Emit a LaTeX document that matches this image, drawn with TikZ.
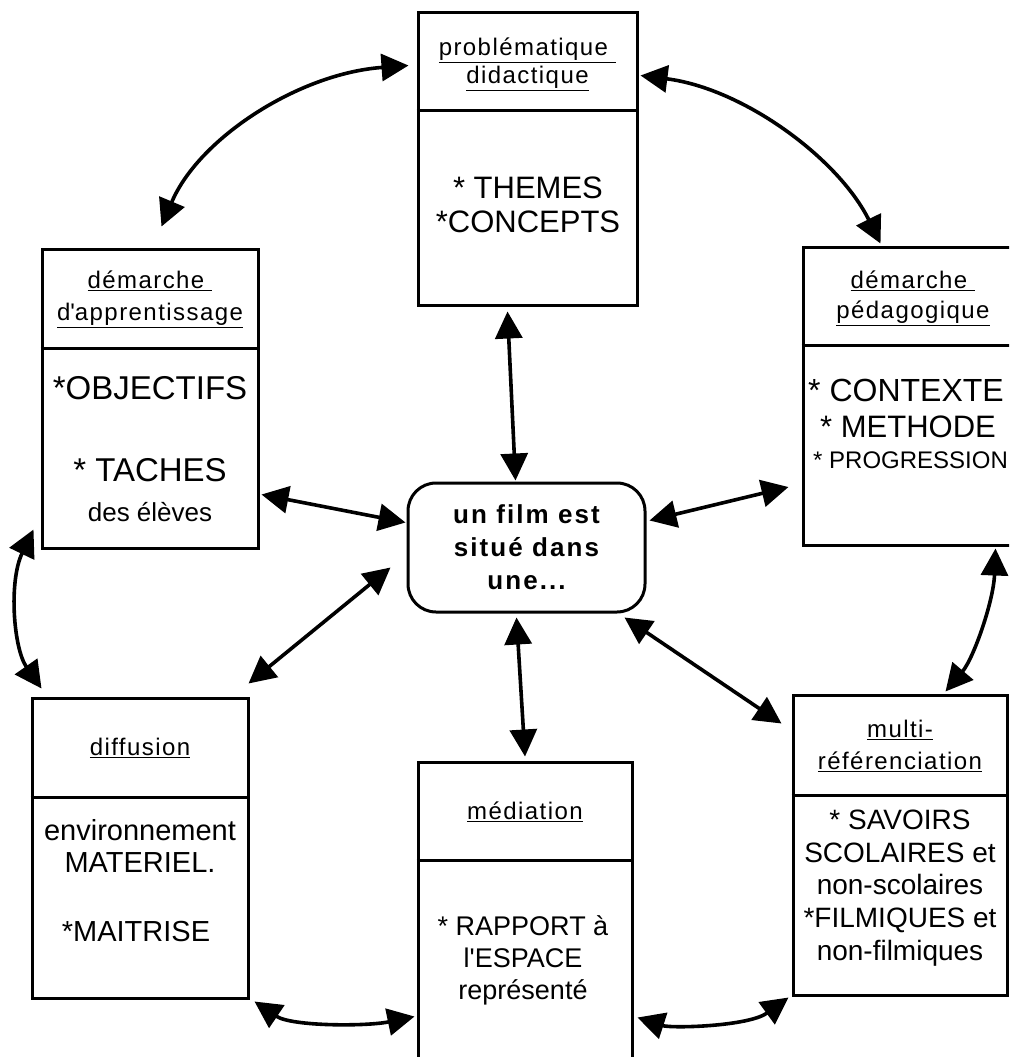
\documentclass[tikz,border=0pt]{standalone}
\usepackage{fontspec}
\setmainfont{Liberation Sans}
\newfontfamily\hdfont[LetterSpace=6]{Liberation Sans}
\newfontfamily\ctrfont[LetterSpace=8]{Liberation Sans}
\usetikzlibrary{arrows.meta,calc}
\begin{document}
\begin{tikzpicture}[x=1pt,y=-1pt,
  box/.style={draw, line width=3pt, inner sep=0pt},
  divl/.style={line width=3pt},
  txt/.style={inner sep=0pt, align=center},
  hd/.style={txt, font=\hdfont\fontsize{24}{30}\selectfont},
  dbl/.style={{Triangle[length=27pt,width=27pt]}-{Triangle[length=27pt,width=27pt]}, line width=3.6pt},
]
\useasboundingbox (0,0) rectangle (1009,1057);
\clip (0,0) rectangle (1009,1057);

% boxes
\node[box, minimum width=219pt, minimum height=292pt] (tb) at (527.5,159) {};
\node[box, minimum width=216pt, minimum height=299pt] (lb) at (150,398.5) {};
\node[box, minimum width=222pt, minimum height=298pt] (rb) at (914,396) {};
\node[box, minimum width=216pt, minimum height=300pt] (db) at (140,848) {};
\node[box, minimum width=214pt, minimum height=318pt] (mb) at (525,921) {};
\node[box, minimum width=214pt, minimum height=300pt] (fb) at (900,845) {};
\node[draw, line width=3pt, rounded corners=28pt, minimum width=237pt, minimum height=129pt,
      txt, font=\ctrfont\bfseries\fontsize{26}{33}\selectfont] (ctr) at (526.5,547.5)
      {un film est\\situé dans\\une...};

% dividers
\draw[divl] (tb.west |- 0,110) -- (tb.east |- 0,110);
\draw[divl] (lb.west |- 0,348) -- (lb.east |- 0,348);
\draw[divl] (rb.west |- 0,345) -- (rb.east |- 0,345);
\draw[divl] (db.west |- 0,797) -- (db.east |- 0,797);
\draw[divl] (mb.west |- 0,860) -- (mb.east |- 0,860);
\draw[divl] (fb.west |- 0,795) -- (fb.east |- 0,795);

% headers
\node[hd, font=\hdfont\fontsize{24}{28}\selectfont] (tbh) at (527.5,64) {\underline{problématique\ }\\\underline{didactique}};
\node[hd, font=\hdfont\fontsize{24}{32}\selectfont] (lbh) at (150,299) {\underline{démarche\ }\\\underline{d\textquotesingle apprentissage}};
\node[hd] (rbh) at (913,298) {\underline{démarche\ }\\\underline{pédagogique}};
\node[hd] (dbh) at (140,748) {\underline{diffusion}};
\node[hd] (mbh) at (525,812) {\underline{médiation}};
\node[hd, font=\hdfont\fontsize{24}{32}\selectfont] (fbh) at (900,746) {\underline{multi-}\\\underline{référenciation}};

% bodies
\node[txt, font=\fontsize{31}{34}\selectfont] (tbb) at (528,205) {* THEMES\\*CONCEPTS};
\node[txt, font=\fontsize{33}{36}\selectfont] (lb1) at (150,388) {*OBJECTIFS};
\node[txt, font=\fontsize{33}{36}\selectfont] (lb2) at (150,470) {* TACHES};
\node[txt, font=\fontsize{26}{30}\selectfont] (lb3) at (150,512) {des élèves};
\node[txt, anchor=west, font=\fontsize{32}{36}\selectfont] (rb1) at (808,390) {* CONTEXTE};
\node[txt, anchor=west, font=\fontsize{31}{34}\selectfont] (rb2) at (820,427) {* METHODE};
\node[txt, anchor=west, font=\fontsize{24}{30}\selectfont] (rb3) at (813,460) {* PROGRESSION};
\node[txt, font=\fontsize{29}{32}\selectfont] (db1) at (140,846) {environnement\\MATERIEL.};
\node[txt, font=\fontsize{29}{32}\selectfont] (db2) at (136,932) {*MAITRISE};
\node[txt, font=\fontsize{27}{32}\selectfont] (mb1) at (523,960) {* RAPPORT à\\l\textquotesingle ESPACE\\représenté};
\node[txt, font=\fontsize{28}{32.7}\selectfont] (fb1) at (900,888) {* SAVOIRS\\SCOLAIRES et\\non-scolaires\\*FILMIQUES et\\non-filmiques};

% straight connectors
\draw[dbl] ($(tb.south)+(-20,5)$) -- ($(ctr.north)+(-11,-1)$);
\draw[dbl] ($(lb.south east)+(2,-55)$) -- ($(ctr.west)+(-1,-25)$);
\draw[dbl] ($(ctr.west)+(-16,20)$) -- ($(db.north east)+(-1,-13)$);
\draw[dbl] ($(ctr.south)+(-10,4)$) -- ($(mb.north)+(0,-4)$);
\draw[dbl] ($(ctr.south east)+(-22,4)$) -- ($(fb.north west)+(-10,30)$);
\draw[dbl] ($(ctr.east)+(3,-27)$) -- ($(rb.west)+(-13,91)$);

% curved connectors
\draw[dbl] ($(lb.north west)+(121,-21)$) .. controls +(37,-88) and +(-110,8) .. ($(tb.north west)+(-8,54)$);
\draw[dbl] ($(tb.north east)+(2,64)$) .. controls +(103,13) and +(-42,-85) .. ($(rb.north west)+(79,-2)$);
\draw[dbl] ($(lb.south west)+(-7,-20)$) .. controls +(-25,52) and +(-28,-40) .. ($(db.north west)+(11,-8)$);
\draw[dbl] ($(rb.south west)+(194,2)$) .. controls +(-2,53) and +(28,-33) .. ($(fb.north west)+(154,-2)$);
\draw[dbl] ($(db.south east)+(5,2)$) .. controls +(37,25) and +(-48,10) .. ($(mb.north west)+(-2,256)$);
\draw[dbl] ($(mb.north east)+(4,257)$) .. controls +(34,11) and +(-40,29) .. ($(fb.south west)+(-3,1)$);
\end{tikzpicture}
\end{document}
